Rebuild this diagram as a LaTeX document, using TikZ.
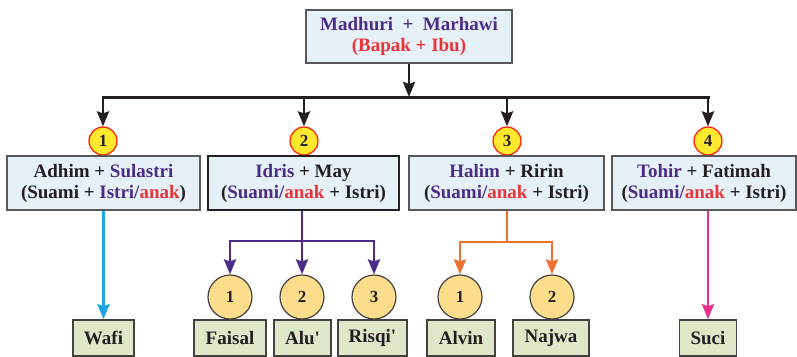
\documentclass[tikz,border=0pt]{standalone}
\usepackage{fontspec}
\setmainfont{Liberation Serif}
\usetikzlibrary{arrows.meta}
\definecolor{ungu}{HTML}{4B2D87}
\definecolor{merah}{HTML}{E8353B}
\definecolor{hitam}{HTML}{231F20}
\definecolor{birumuda}{HTML}{E5F1F7}
\definecolor{hijaumuda}{HTML}{DEE8C9}
\definecolor{kuning}{HTML}{FFE82E}
\definecolor{jingga}{HTML}{FCDD8B}
\definecolor{garisbiru}{HTML}{1CA6DE}
\definecolor{oranye}{HTML}{EF7130}
\definecolor{merahmuda}{HTML}{E6308A}
\newcommand{\tu}[1]{\textcolor{ungu}{#1}}
\newcommand{\tm}[1]{\textcolor{merah}{#1}}

\begin{document}
\begin{tikzpicture}[x=1pt,y=-1pt,
 font=\bfseries\fontsize{19}{21}\selectfont, text=hitam,
 kotak/.style={draw=hitam!75, fill=birumuda, line width=1.3pt, align=center, inner sep=0pt, minimum height=54pt},
 nama/.style={draw=hitam!85, fill=hijaumuda, line width=1.6pt, inner sep=0pt, minimum height=36pt},
 nomor/.style={circle, draw=red!80!orange, fill=kuning, line width=1.2pt, inner sep=0pt, minimum size=28pt, font=\bfseries\fontsize{17}{17}\selectfont},
 anak/.style={circle, draw=hitam!85, fill=jingga, line width=1.2pt, inner sep=0pt, minimum size=44pt, font=\bfseries\fontsize{17}{17}\selectfont},
 panah/.style={line width=2.8pt, -{Stealth[length=15pt,width=12pt,inset=2pt]}}]
\useasboundingbox (0,0) rectangle (797,356);
% orang tua
\node[kotak, minimum width=206pt, minimum height=53pt] (ortu) at (409,36.5) {\tu{Madhuri~~+~~Marhawi}\\\tm{(Bapak + Ibu)}};
\coordinate (t1) at (103,97);
\coordinate (t2) at (304,97);
\coordinate (t3) at (507,97);
\coordinate (t4) at (708,97);
\draw[panah, hitam] (ortu) -- (ortu.south |- t1);
\draw[line width=3pt, line cap=rect, hitam] (t1) -- (t4);
% nomor anak
\node[nomor] (n1) at (103,141) {1};
\node[nomor] (n2) at (304,141) {2};
\node[nomor] (n3) at (507,141) {3};
\node[nomor] (n4) at (708,141) {4};
\draw[panah, hitam] (t1) -- (n1);
\draw[panah, hitam] (t2) -- (n2);
\draw[panah, hitam] (t3) -- (n3);
\draw[panah, hitam] (t4) -- (n4);
% pasangan
\node[kotak, minimum width=193pt] (p1) at (103.5,183) {Adhim + \tu{Sulastri}\\(Suami + \tu{Istri/}\tm{anak})};
\node[kotak, minimum width=191pt, draw=hitam, line width=2pt] (p2) at (303.5,183) {\tu{Idris} + May\\(\tu{Suami/}\tm{anak} + Istri)};
\node[kotak, minimum width=195pt] (p3) at (506.5,183) {\tu{Halim} + Ririn\\(\tu{Suami/}\tm{anak} + Istri)};
\node[kotak, minimum width=184pt] (p4) at (704,183) {\tu{Tohir} + Fatimah\\(\tu{Suami/}\tm{anak} + Istri)};
% cucu 1
\node[nama, minimum width=61pt] (wafi) at (103.5,338) {Wafi};
\draw[panah, garisbiru] (wafi |- p1.south) -- (wafi);
% cucu 2
\node[anak] (a1) at (230,297) {1};
\node[anak] (a2) at (302,297) {2};
\node[anak] (a3) at (374,297) {3};
\node[nama, minimum width=72pt] (faisal) at (230,338) {Faisal};
\node[nama, minimum width=57pt] (alu) at (302.5,338) {Alu\textquotesingle};
\node[nama, minimum width=69pt] (risqi) at (372.5,338) {Risqi\textquotesingle};
\coordinate (c2) at (302,241);
\draw[panah, ungu] (a2 |- p2.south) -- (a2);
\draw[panah, ungu] (c2) -| (a1);
\draw[panah, ungu] (c2) -| (a3);
% cucu 3
\node[anak] (b1) at (460,297) {1};
\node[anak] (b2) at (552,297) {2};
\node[nama, minimum width=68pt] (alvin) at (461,338) {Alvin};
\node[nama, minimum width=76pt] (najwa) at (551,338) {Najwa};
\coordinate (c3) at (507,242);
\draw[line width=2.8pt, oranye] (c3 |- p3.south) -- (c3);
\draw[panah, oranye] (c3) -| (b1);
\draw[panah, oranye] (c3) -| (b2);
% cucu 4
\node[nama, minimum width=57pt] (suci) at (708,338) {Suci};
\draw[panah, merahmuda] (suci |- p4.south) -- (suci);
\end{tikzpicture}
\end{document}
